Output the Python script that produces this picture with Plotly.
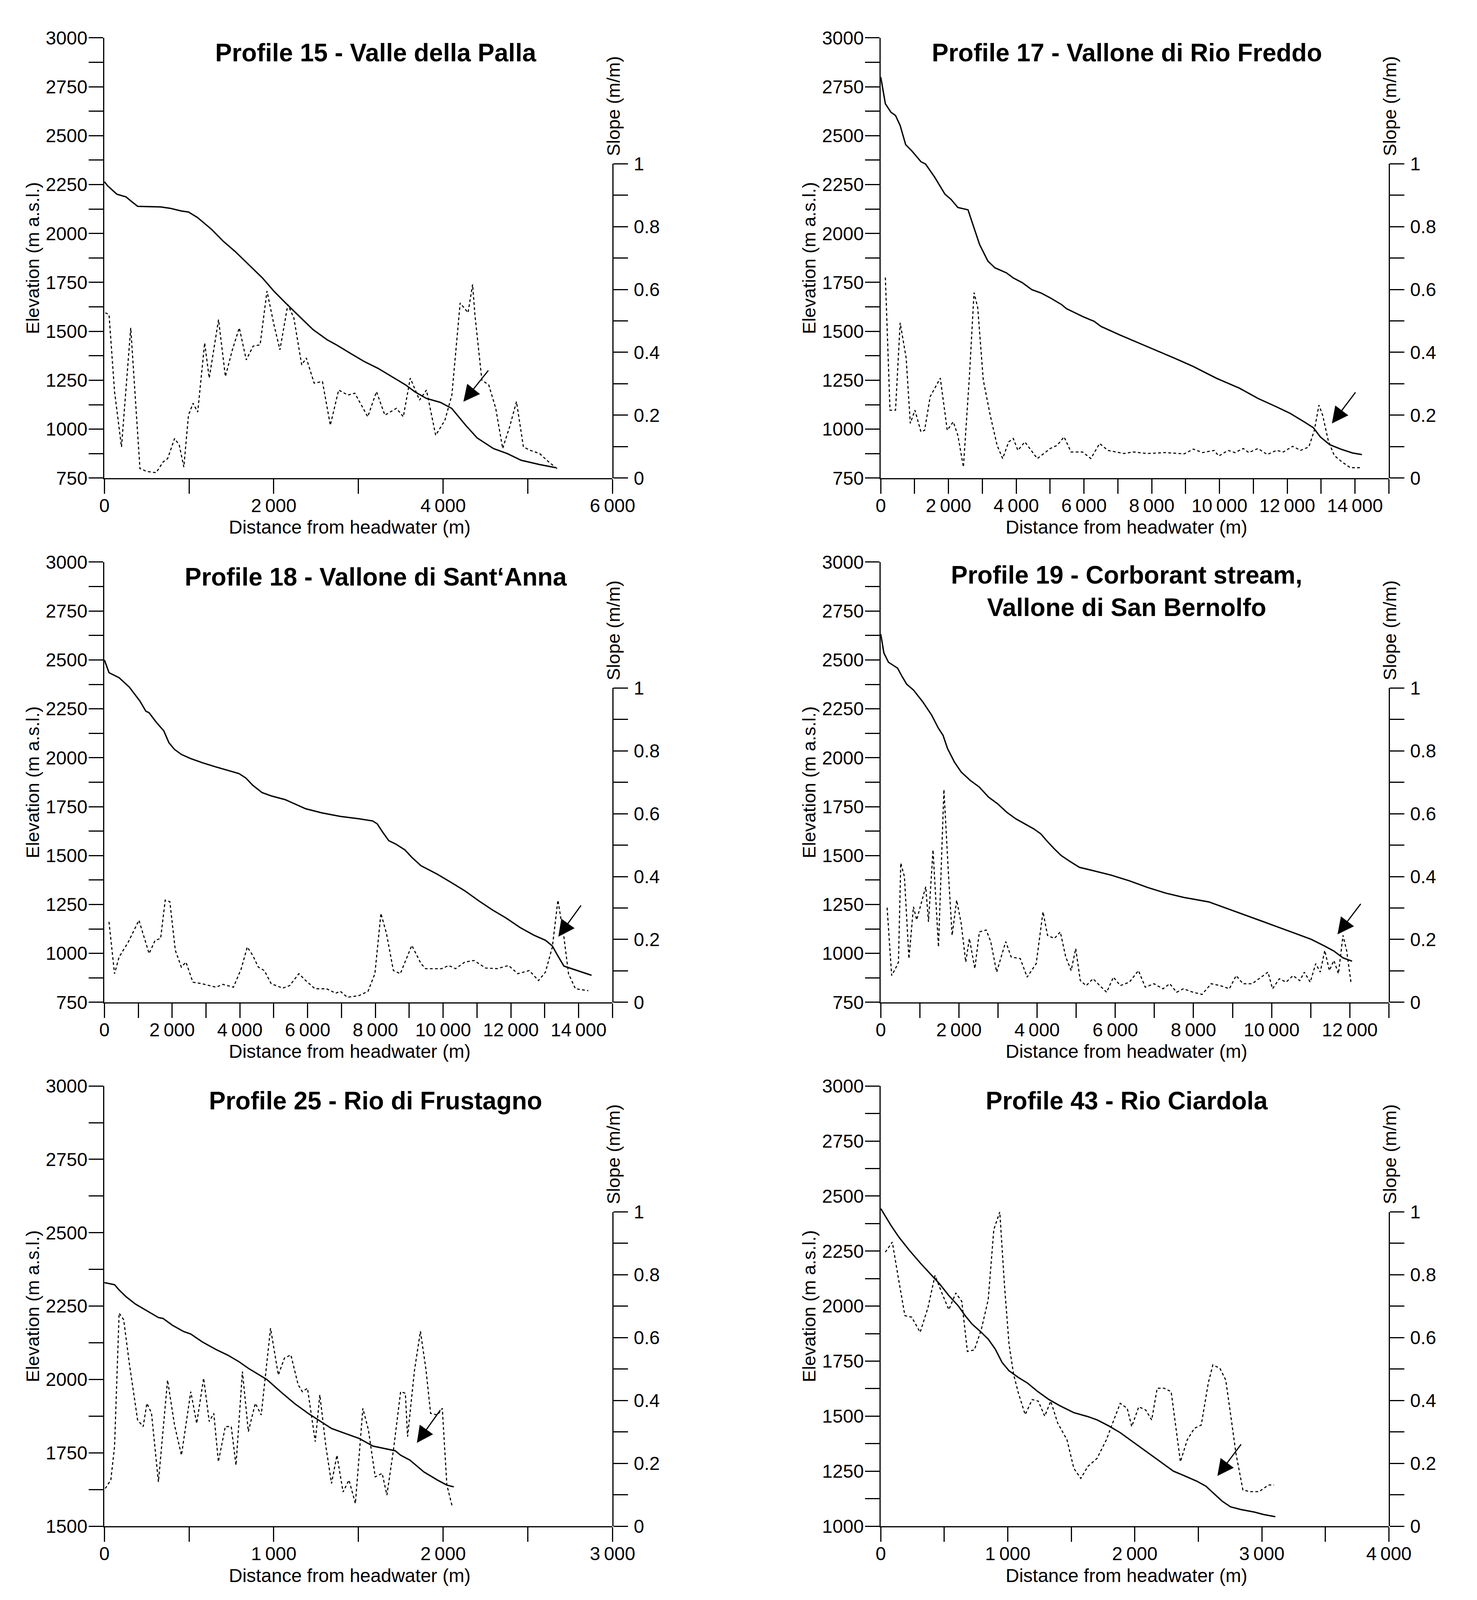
import plotly.graph_objects as go

# ---------------- DATA ----------------
# Profile 15 - Valle della Palla
p15_dist_elev = [0, 38, 147, 256, 311, 393, 666, 775, 911, 993, 1102, 1266, 1402, 1539, 1702, 1866, 2002, 2139,
                 2303, 2466, 2630, 2739, 2903, 3066, 3230, 3393, 3557, 3666, 3802, 3966, 4102, 4266, 4402, 4593,
                 4757, 4921, 5139, 5330]
p15_elev = [2265, 2244, 2201, 2187, 2167, 2139, 2136, 2129, 2115, 2110, 2081, 2021, 1961, 1910, 1842, 1773, 1705,
            1645, 1576, 1508, 1457, 1431, 1388, 1346, 1311, 1268, 1226, 1191, 1157, 1137, 1106, 1020, 955, 901,
            875, 841, 819, 803]
p15_dist_slope = [11, 55, 120, 202, 311, 420, 502, 611, 693, 747, 829, 884, 938, 993, 1047, 1102, 1184, 1238, 1348,
                  1429, 1511, 1593, 1675, 1757, 1839, 1920, 2002, 2073, 2166, 2237, 2330, 2384, 2477, 2575, 2668,
                  2766, 2875, 2957, 3110, 3213, 3312, 3448, 3530, 3612, 3721, 3803, 3912, 4021, 4103, 4201, 4294,
                  4348, 4375, 4457, 4539, 4621, 4703, 4785, 4866, 4948, 5030, 5139, 5248, 5346]
p15_slope = [0.526, 0.52, 0.275, 0.099, 0.478, 0.03, 0.021, 0.017, 0.051, 0.062, 0.126, 0.105, 0.035, 0.2, 0.238,
             0.21, 0.43, 0.318, 0.504, 0.323, 0.408, 0.478, 0.376, 0.42, 0.424, 0.595, 0.488, 0.408, 0.552, 0.51,
             0.36, 0.382, 0.302, 0.307, 0.168, 0.28, 0.264, 0.27, 0.195, 0.275, 0.2, 0.222, 0.195, 0.318, 0.248,
             0.28, 0.136, 0.184, 0.264, 0.557, 0.526, 0.616, 0.52, 0.312, 0.296, 0.222, 0.094, 0.163, 0.243,
             0.099, 0.088, 0.078, 0.051, 0.03]
p15_arrow_tip = (4239, 1140)
p15_arrow_tail = (4539, 1303)

# Profile 17 - Vallone di Rio Freddo
p17_dist_elev = [0, 136, 300, 436, 573, 736, 913, 1186, 1322, 1595, 1895, 2072, 2276, 2576, 2685, 2917, 3162, 3367,
                 3708, 3912, 4185, 4457, 4730, 5003, 5344, 5480, 5957, 6298, 6502, 7048, 7865, 8683, 9229, 9910,
                 10592, 11137, 11682, 12091, 12500, 12773, 12977, 13250, 13591, 13932, 14204]
p17_elev = [2800, 2663, 2620, 2603, 2552, 2454, 2423, 2367, 2355, 2287, 2201, 2175, 2133, 2121, 2064, 1944, 1859,
            1825, 1799, 1773, 1748, 1713, 1696, 1671, 1636, 1616, 1576, 1551, 1525, 1482, 1422, 1362, 1320, 1260,
            1209, 1157, 1114, 1080, 1037, 1007, 960, 921, 897, 878, 870]
p17_dist_slope = [136, 273, 436, 573, 750, 872, 1009, 1186, 1295, 1459, 1758, 1963, 2140, 2276, 2440, 2617, 2754,
                  2863, 3026, 3231, 3435, 3599, 3776, 3912, 4049, 4253, 4621, 5003, 5207, 5412, 5616, 5957, 6202,
                  6461, 6706, 7184, 7456, 7865, 8410, 8956, 9229, 9501, 9842, 9978, 10251, 10455, 10701, 10864,
                  11137, 11410, 11682, 11887, 12159, 12391, 12637, 12800, 12936, 13045, 13209, 13386, 13618, 13864,
                  14204]
p17_slope = [0.638, 0.216, 0.216, 0.494, 0.382, 0.174, 0.216, 0.147, 0.152, 0.259, 0.318, 0.152, 0.179, 0.136,
             0.035, 0.323, 0.59, 0.542, 0.312, 0.2, 0.104, 0.062, 0.115, 0.126, 0.088, 0.115, 0.062, 0.094, 0.104,
             0.131, 0.083, 0.083, 0.062, 0.11, 0.088, 0.078, 0.083, 0.078, 0.081, 0.077, 0.092, 0.081, 0.088, 0.07,
             0.088, 0.081, 0.094, 0.081, 0.094, 0.075, 0.088, 0.083, 0.101, 0.088, 0.099, 0.152, 0.232, 0.2, 0.12,
             0.072, 0.051, 0.033, 0.033]
p17_arrow_tip = (13318, 1029)
p17_arrow_tail = (14027, 1191)

# Profile 18 - Vallone di Sant'Anna
p18_dist_elev = [0, 136, 435, 735, 1048, 1224, 1320, 1524, 1755, 1905, 2068, 2272, 2544, 2884, 3293, 3701, 3973,
                 4177, 4381, 4653, 4925, 5333, 5605, 5946, 6422, 6966, 7510, 7918, 8054, 8218, 8395, 8599, 8871,
                 9075, 9347, 9823, 10231, 10639, 11048, 11456, 11864, 12272, 12680, 13020, 13224, 13361, 13565,
                 13905, 14381]
p18_elev = [2500, 2435, 2409, 2361, 2290, 2238, 2230, 2183, 2137, 2077, 2043, 2017, 1996, 1975, 1953, 1932, 1919,
            1896, 1859, 1822, 1805, 1786, 1765, 1739, 1718, 1700, 1688, 1677, 1662, 1619, 1576, 1559, 1529, 1491,
            1448, 1405, 1363, 1320, 1269, 1222, 1180, 1132, 1093, 1067, 1038, 995, 935, 915, 888]
p18_dist_slope = [136, 299, 435, 707, 1020, 1320, 1497, 1660, 1796, 1932, 2095, 2272, 2408, 2612, 2884, 3293, 3497,
                  3810, 4041, 4218, 4381, 4544, 4721, 4925, 5265, 5469, 5741, 5946, 6218, 6558, 6830, 6966, 7170,
                  7510, 7782, 7986, 8163, 8327, 8531, 8735, 9075, 9347, 9483, 9959, 10163, 10367, 10639, 10912,
                  11252, 11592, 11932, 12204, 12544, 12816, 13020, 13224, 13388, 13565, 13701, 13905, 14286]
p18_slope = [0.256, 0.091, 0.144, 0.192, 0.261, 0.155, 0.197, 0.203, 0.325, 0.32, 0.165, 0.112, 0.128, 0.064, 0.059,
             0.048, 0.057, 0.048, 0.107, 0.176, 0.149, 0.112, 0.101, 0.059, 0.045, 0.053, 0.091, 0.069, 0.043,
             0.043, 0.029, 0.035, 0.016, 0.021, 0.035, 0.091, 0.283, 0.219, 0.101, 0.091, 0.181, 0.123, 0.107,
             0.107, 0.117, 0.107, 0.128, 0.133, 0.109, 0.107, 0.117, 0.091, 0.101, 0.069, 0.096, 0.176, 0.325,
             0.208, 0.091, 0.043, 0.037]
p18_arrow_tip = (13401, 1085)
p18_arrow_tail = (14082, 1248)

# Profile 19 - Corborant stream, Vallone di San Bernolfo
p19_dist_elev = [0, 81, 198, 430, 547, 663, 837, 1070, 1302, 1477, 1593, 1709, 1884, 2058, 2291, 2523, 2756, 2988,
                 3221, 3453, 3686, 3919, 4093, 4267, 4442, 4616, 4849, 5081, 5430, 5895, 6360, 6826, 7291, 7756,
                 8395, 8802, 9267, 9733, 10198, 10663, 11012, 11360, 11593, 11826, 12058]
p19_elev = [2632, 2535, 2488, 2458, 2415, 2376, 2346, 2287, 2218, 2150, 2115, 2047, 1978, 1927, 1884, 1850, 1799,
            1765, 1722, 1688, 1662, 1636, 1611, 1571, 1534, 1500, 1469, 1440, 1423, 1400, 1371, 1337, 1308, 1286,
            1263, 1234, 1200, 1166, 1132, 1097, 1072, 1037, 1012, 977, 960]
p19_dist_slope = [163, 279, 395, 453, 512, 605, 721, 837, 919, 1035, 1151, 1221, 1337, 1477, 1616, 1733, 1826,
                  1942, 2058, 2174, 2267, 2407, 2523, 2698, 2814, 2965, 3198, 3337, 3570, 3744, 3977, 4151, 4267,
                  4442, 4593, 4733, 4872, 4988, 5105, 5256, 5430, 5605, 5779, 5953, 6128, 6360, 6593, 6767, 6988,
                  7221, 7395, 7570, 7744, 7988, 8221, 8453, 8686, 8919, 9093, 9267, 9500, 9733, 9907, 10023, 10198,
                  10372, 10547, 10721, 10837, 10988, 11128, 11244, 11360, 11477, 11593, 11709, 11826, 11919, 12035]
p19_slope = [0.301, 0.085, 0.112, 0.128, 0.443, 0.4, 0.139, 0.304, 0.262, 0.315, 0.368, 0.256, 0.485, 0.176, 0.677,
             0.406, 0.213, 0.325, 0.251, 0.128, 0.203, 0.107, 0.224, 0.23, 0.193, 0.096, 0.193, 0.144, 0.139, 0.08,
             0.123, 0.288, 0.213, 0.203, 0.224, 0.144, 0.101, 0.171, 0.069, 0.053, 0.075, 0.053, 0.032, 0.08, 0.053,
             0.064, 0.101, 0.048, 0.059, 0.043, 0.059, 0.032, 0.043, 0.032, 0.025, 0.059, 0.053, 0.043, 0.085,
             0.059, 0.059, 0.08, 0.096, 0.043, 0.075, 0.064, 0.085, 0.069, 0.096, 0.064, 0.123, 0.096, 0.165, 0.101,
             0.133, 0.091, 0.213, 0.165, 0.059]
p19_arrow_tip = (11686, 1097)
p19_arrow_tail = (12291, 1256)

# Profile 25 - Rio di Frustagno
p25_dist_elev = [0, 60, 87, 128, 183, 251, 319, 346, 401, 469, 510, 578, 659, 728, 796, 850, 959, 1041, 1123, 1204,
                 1272, 1341, 1422, 1504, 1586, 1654, 1717, 1749, 1804, 1886, 1967, 2022, 2063]
p25_elev = [2330, 2323, 2305, 2282, 2257, 2234, 2211, 2208, 2185, 2163, 2155, 2128, 2102, 2083, 2060, 2038, 2000,
            1958, 1918, 1884, 1859, 1833, 1816, 1799, 1773, 1765, 1757, 1742, 1725, 1685, 1657, 1640, 1634]
p25_dist_slope = [5, 38, 60, 87, 114, 147, 196, 229, 251, 278, 319, 373, 414, 455, 510, 545, 586, 619, 646, 673,
                  714, 749, 777, 815, 850, 891, 926, 981, 1027, 1063, 1101, 1144, 1169, 1199, 1245, 1272, 1308, 1341,
                  1373, 1409, 1444, 1482, 1526, 1559, 1599, 1640, 1668, 1708, 1749, 1777, 1790, 1831, 1866, 1899,
                  1926, 1967, 1995, 2022, 2054]
p25_slope = [0.12, 0.147, 0.253, 0.678, 0.657, 0.519, 0.338, 0.317, 0.391, 0.36, 0.141, 0.465, 0.322, 0.226, 0.428,
             0.327, 0.471, 0.333, 0.359, 0.205, 0.317, 0.317, 0.194, 0.492, 0.301, 0.391, 0.354, 0.63, 0.481, 0.535,
             0.545, 0.45, 0.428, 0.439, 0.269, 0.418, 0.253, 0.136, 0.226, 0.109, 0.147, 0.072, 0.375, 0.306, 0.157,
             0.168, 0.099, 0.248, 0.428, 0.423, 0.285, 0.497, 0.62, 0.497, 0.359, 0.354, 0.375, 0.131, 0.062]
p25_arrow_tip = (1845, 1784)
p25_arrow_tail = (1986, 1898)

# Profile 43 - Rio Ciardola
p43_dist_elev = [0, 80, 142, 226, 317, 390, 463, 536, 609, 664, 718, 791, 846, 901, 955, 1010, 1083, 1156, 1229,
                 1320, 1411, 1520, 1630, 1703, 1794, 1885, 1976, 2049, 2122, 2213, 2304, 2395, 2486, 2559, 2632,
                 2687, 2753, 2833, 2942, 3015, 3106]
p43_elev = [2443, 2367, 2314, 2253, 2192, 2147, 2101, 2048, 2002, 1957, 1919, 1881, 1850, 1805, 1744, 1706, 1676,
            1650, 1615, 1577, 1547, 1516, 1498, 1483, 1456, 1425, 1387, 1357, 1327, 1289, 1250, 1228, 1205, 1182,
            1144, 1114, 1088, 1076, 1064, 1053, 1043]
p43_dist_slope = [36, 91, 135, 190, 244, 310, 372, 427, 481, 536, 591, 638, 682, 737, 791, 846, 890, 937, 974, 1010,
                  1046, 1083, 1137, 1192, 1240, 1291, 1338, 1393, 1466, 1520, 1575, 1630, 1703, 1776, 1830, 1885,
                  1940, 1976, 2031, 2085, 2133, 2176, 2231, 2286, 2359, 2413, 2468, 2523, 2578, 2614, 2669, 2716,
                  2760, 2796, 2851, 2906, 2979, 3052, 3095]
p43_slope = [0.872, 0.904, 0.798, 0.67, 0.665, 0.617, 0.696, 0.798, 0.742, 0.689, 0.742, 0.715, 0.556, 0.561, 0.625,
             0.721, 0.944, 1.0, 0.766, 0.578, 0.483, 0.424, 0.355, 0.403, 0.398, 0.35, 0.398, 0.328, 0.275, 0.184,
             0.152, 0.19, 0.216, 0.275, 0.333, 0.391, 0.375, 0.317, 0.38, 0.37, 0.338, 0.439, 0.439, 0.428, 0.205,
             0.275, 0.311, 0.322, 0.455, 0.513, 0.503, 0.465, 0.338, 0.232, 0.115, 0.11, 0.11, 0.131, 0.131]
p43_arrow_tip = (2650, 1228)
p43_arrow_tail = (2840, 1375)

# Titles and axis ticks
titles = ["Profile 15 - Valle della Palla",
          "Profile 17 - Vallone di Rio Freddo",
          "Profile 18 - Vallone di Sant\u2018Anna",
          "Profile 19 - Corborant stream,<br>Vallone di San Bernolfo",
          "Profile 25 - Rio di Frustagno",
          "Profile 43 - Rio Ciardola"]

x_ticks_6000 = [0, 2000, 4000, 6000]
x_labels_6000 = ["0", "2\u2009000", "4\u2009000", "6\u2009000"]
x_ticks_15000 = [0, 2000, 4000, 6000, 8000, 10000, 12000, 14000]
x_labels_15000 = ["0", "2\u2009000", "4\u2009000", "6\u2009000", "8\u2009000", "10\u2009000", "12\u2009000", "14\u2009000"]
x_ticks_13000 = [0, 2000, 4000, 6000, 8000, 10000, 12000]
x_labels_13000 = ["0", "2\u2009000", "4\u2009000", "6\u2009000", "8\u2009000", "10\u2009000", "12\u2009000"]
x_ticks_3000 = [0, 1000, 2000, 3000]
x_labels_3000 = ["0", "1\u2009000", "2\u2009000", "3\u2009000"]
x_ticks_4000 = [0, 1000, 2000, 3000, 4000]
x_labels_4000 = ["0", "1\u2009000", "2\u2009000", "3\u2009000", "4\u2009000"]

x_ranges = [(0, 6000), (0, 15000), (0, 15000), (0, 13000), (0, 3000), (0, 4000)]
x_minor = [1000, 1000, 1000, 1000, 500, 500]
y_ranges = [(750, 3000), (750, 3000), (750, 3000), (750, 3000), (1500, 3000), (1000, 3000)]

panels = [
    (p15_dist_elev, p15_elev, p15_dist_slope, p15_slope, p15_arrow_tip, p15_arrow_tail, x_ticks_6000, x_labels_6000),
    (p17_dist_elev, p17_elev, p17_dist_slope, p17_slope, p17_arrow_tip, p17_arrow_tail, x_ticks_15000, x_labels_15000),
    (p18_dist_elev, p18_elev, p18_dist_slope, p18_slope, p18_arrow_tip, p18_arrow_tail, x_ticks_15000, x_labels_15000),
    (p19_dist_elev, p19_elev, p19_dist_slope, p19_slope, p19_arrow_tip, p19_arrow_tail, x_ticks_13000, x_labels_13000),
    (p25_dist_elev, p25_elev, p25_dist_slope, p25_slope, p25_arrow_tip, p25_arrow_tail, x_ticks_3000, x_labels_3000),
    (p43_dist_elev, p43_elev, p43_dist_slope, p43_slope, p43_arrow_tip, p43_arrow_tail, x_ticks_4000, x_labels_4000),
]

# ---------------- LAYOUT ----------------
W, H = 3782, 4735          # reference canvas; positions below are fractions of it
FONT = "Liberation Sans, Arial, sans-serif"
COLS = [(251, 1577), (2277, 3603)]
ROWS = [(74, 1399), (1652, 2977), (3229, 4554)]
SLOPE_H = 946
TITLE_X = [959, 2919]
XTITLE_X = [891, 2918]
YTITLE_X = [64, 2090]
TICKLEN = 37
LW = 2.6
TICKFONT = 48


def px(x):
    return x / W


def py(y):
    return 1 - y / H


fig = go.Figure()
layout = dict(width=W, autosize=True, margin=dict(l=0, r=0, t=0, b=0),
              paper_bgcolor="white", plot_bgcolor="rgba(0,0,0,0)", showlegend=False,
              font=dict(family=FONT, size=47, color="black"))
annotations = []

for k, (de, e, ds, s, tip, tail, xt, xl) in enumerate(panels):
    i = k + 1
    col, row = k % 2, k // 2
    x0, x1 = COLS[col]
    ytop, ybot = ROWS[row]
    xa = "x" if i == 1 else f"x{i}"
    ye_n, ys_n = 2 * i - 1, 2 * i
    ye = "y" if ye_n == 1 else f"y{ye_n}"
    ys = f"y{ys_n}"

    fig.add_trace(go.Scatter(x=de, y=e, mode="lines", xaxis=xa, yaxis=ye,
                             line=dict(color="black", width=3.5), hoverinfo="skip"))
    fig.add_trace(go.Scatter(x=ds, y=s, mode="lines", xaxis=xa, yaxis=ys,
                             line=dict(color="black", width=2.8, dash="7px,6px"), hoverinfo="skip"))

    common = dict(showgrid=False, zeroline=False, showline=True, linecolor="black", linewidth=LW,
                  ticks="outside", ticklen=TICKLEN, tickwidth=LW, tickcolor="black",
                  tickfont=dict(family=FONT, size=TICKFONT, color="black"))
    layout["xaxis" if i == 1 else f"xaxis{i}"] = dict(
        common, domain=[px(x0), px(x1)], anchor=ye, range=list(x_ranges[k]),
        tickmode="array", tickvals=xt, ticktext=xl, ticklabelstandoff=-10,
        minor=dict(dtick=x_minor[k], tick0=0, ticks="outside", ticklen=TICKLEN, tickwidth=LW, tickcolor="black"))
    layout["yaxis" if ye_n == 1 else f"yaxis{ye_n}"] = dict(
        common, domain=[py(ybot), py(ytop)], anchor=xa, range=list(y_ranges[k]),
        tick0=y_ranges[k][0], dtick=250, ticklabelstandoff=-6,
        minor=dict(dtick=125, tick0=y_ranges[k][0], ticks="outside", ticklen=TICKLEN, tickwidth=LW,
                   tickcolor="black"))
    layout[f"yaxis{ys_n}"] = dict(
        common, domain=[py(ybot), py(ybot - SLOPE_H)], anchor=xa, side="right", range=[0, 1],
        tick0=0, dtick=0.2, ticklabelstandoff=5,
        minor=dict(dtick=0.1, tick0=0, ticks="outside", ticklen=TICKLEN, tickwidth=LW, tickcolor="black"))

    # panel title (pixel offset below the top of the elevation axis)
    annotations.append(dict(text=f"<b>{titles[k]}</b>", xref="paper", yref="paper", x=px(TITLE_X[col]),
                            y=py(ytop), yshift=-38 if i != 4 else -75, xanchor="center", yanchor="middle",
                            showarrow=False, font=dict(family=FONT, size=64, color="black")))
    # x-axis title (pixel offset below the x axis)
    annotations.append(dict(text="Distance from headwater (m)", xref="paper", yref="paper",
                            x=px(XTITLE_X[col]), y=py(ybot), yshift=-126, xanchor="center", yanchor="middle",
                            showarrow=False, font=dict(family=FONT, size=48, color="black")))
    # elevation title
    annotations.append(dict(text="Elevation (m a.s.l.)", xref="paper", yref="paper", textangle=-90,
                            x=px(YTITLE_X[col]), y=py((ytop + ybot) / 2), xanchor="center", yanchor="middle",
                            showarrow=False, font=dict(family=FONT, size=47, color="black")))
    # slope title (pixel offset above the top of the slope axis)
    annotations.append(dict(text="Slope (m/m)", xref="paper", yref="paper", textangle=-90,
                            x=px(x1 + 2), y=py(ybot - SLOPE_H), yshift=148, xanchor="center", yanchor="middle",
                            showarrow=False, font=dict(family=FONT, size=47, color="black")))
    # arrow
    annotations.append(dict(x=tip[0], y=tip[1], ax=tail[0], ay=tail[1], xref=xa, yref=ye, axref=xa, ayref=ye,
                            text="", showarrow=True, arrowhead=2, arrowsize=2.8, arrowwidth=3,
                            arrowcolor="black", standoff=0))

layout["annotations"] = annotations
fig.update_layout(**layout)
# width is fixed; the height follows the visible window so that the whole figure is always photographed
fig.write_html("out.html", default_height="calc(100vh - 16px)", config={"responsive": True})
